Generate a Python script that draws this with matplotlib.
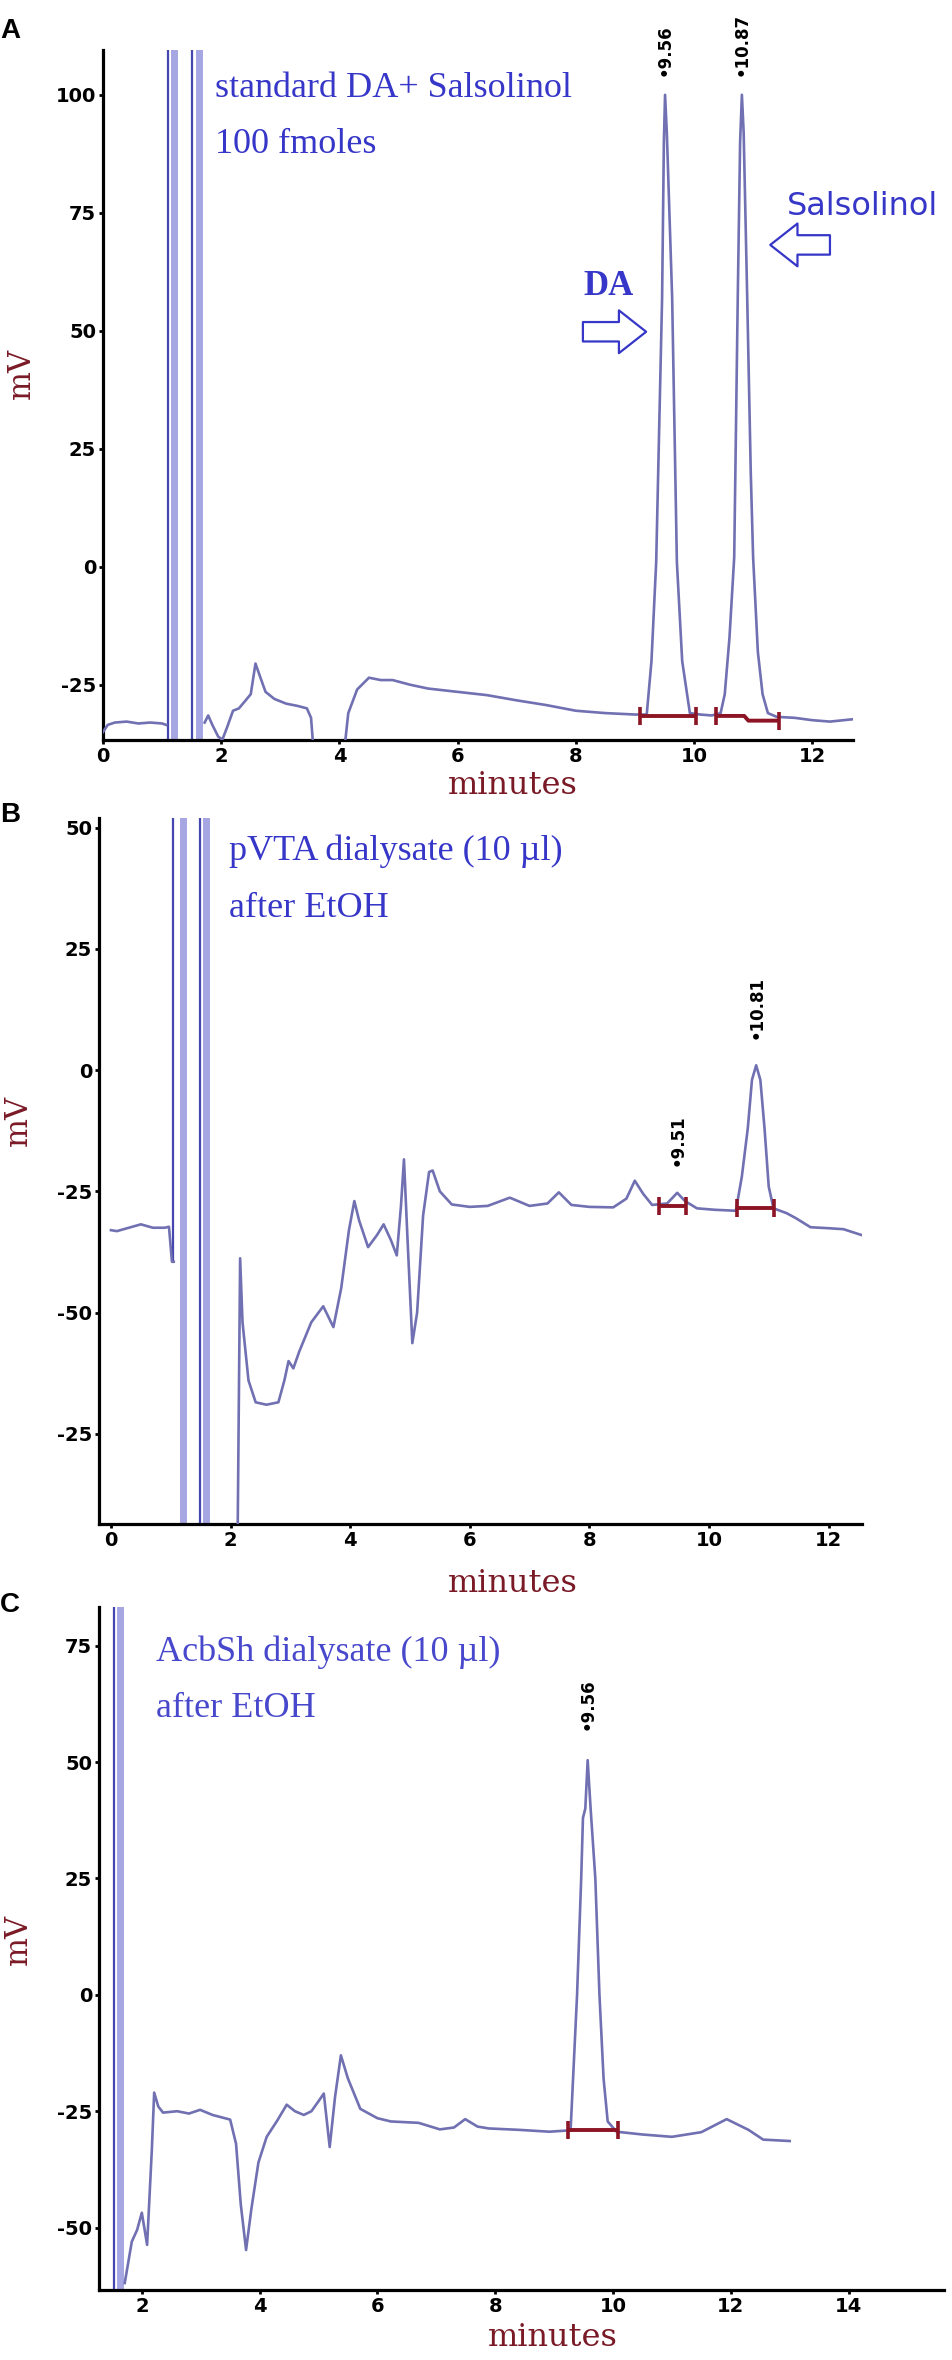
import numpy as np
import matplotlib.pyplot as plt

# ---------------- data ----------------
# panel A : standard DA + salsolinol, 100 fmoles
a_time = [0.0, 0.08, 0.2, 0.4, 0.6, 0.8, 1.0, 1.07, np.nan,
          1.72, 1.78, 1.85, 1.95, 2.02, 2.1, 2.2, 2.3, 2.4, 2.5, 2.58, 2.65, 2.75,
          2.9, 3.1, 3.3, 3.45, 3.52, 3.6, np.nan,
          4.03, 4.15, 4.3, 4.5, 4.7, 4.9, 5.2, 5.5, 6.0, 6.5, 7.0, 7.5, 8.0, 8.5,
          9.0, 9.2, 9.28, 9.36, 9.46, 9.49, 9.51, 9.54, 9.63, 9.71, 9.8, 9.93,
          10.1, 10.3, 10.45, 10.52, 10.6, 10.68, 10.74, 10.78, 10.81, 10.84, 10.9,
          10.96, 11.0, 11.08, 11.16, 11.25, 11.4, 11.7, 12.0, 12.3, 12.69]
a_mv = [-35.0, -33.5, -33.0, -32.8, -33.2, -33.0, -33.2, -33.5, np.nan,
        -33.0, -31.5, -33.5, -36.0, -36.6, -34.0, -30.5, -30.0, -28.5, -27.0, -20.5, -23.0, -26.5,
        -28.0, -29.0, -29.5, -30.0, -32.0, -45.0, np.nan,
        -45.0, -31.0, -26.0, -23.5, -24.0, -24.0, -25.0, -25.8, -26.5, -27.2, -28.3, -29.3, -30.5, -31.0,
        -31.3, -31.3, -20.0, 1.0, 57.0, 90.0, 100.0, 92.0, 57.0, 1.0, -20.0, -31.0,
        -31.3, -31.5, -31.0, -27.0, -15.0, 2.0, 57.0, 90.0, 100.0, 92.0, 57.0,
        20.0, 2.0, -18.0, -27.0, -31.0, -31.8, -32.0, -32.5, -32.8, -32.3]
a_spikes = [1.10, 1.20, 1.50, 1.63]
a_peak_times = [9.51, 10.81]
a_peak_mv = [100, 100]
a_peak_labels = ['9.56', '10.87']
a_bar_x = [[9.08, 10.03], [10.37, 10.85, 10.92, 11.43]]
a_bar_mv = [[-31.6, -31.6], [-31.6, -31.6, -32.6, -32.6]]
a_yticks = [100, 75, 50, 25, 0, -25]
a_yticklabels = ['100', '75', '50', '25', '0', '-25']

# panel B : pVTA dialysate (10 ul) after EtOH
b_time = [0.0, 0.1, 0.3, 0.5, 0.7, 0.9, 0.97, 1.02, 1.05, np.nan,
          2.12, 2.16, 2.2, 2.3, 2.42, 2.6, 2.8, 2.9, 2.97, 3.05, 3.15, 3.35, 3.55,
          3.72, 3.85, 3.98, 4.07, 4.15, 4.3, 4.45, 4.56, 4.68, 4.78, 4.85, 4.9,
          4.96, 5.04, 5.12, 5.22, 5.32, 5.38, 5.5, 5.7, 6.0, 6.3, 6.67, 7.0, 7.3,
          7.49, 7.7, 8.0, 8.4, 8.62, 8.76, 8.9, 9.05, 9.3, 9.47, 9.6, 9.8, 10.1,
          10.45, 10.55, 10.65, 10.72, 10.79, 10.86, 10.93, 11.0, 11.08, 11.3,
          11.45, 11.7, 12.0, 12.25, 12.55]
b_mv = [-33.0, -33.2, -32.5, -31.8, -32.5, -32.5, -32.3, -39.5, -39.5, np.nan,
        -94.0, -38.8, -52.0, -64.0, -68.5, -69.0, -68.5, -64.0, -60.0, -61.5, -58.0, -52.0, -48.7,
        -53.0, -45.0, -33.0, -27.0, -31.0, -36.5, -34.0, -31.8, -35.0, -38.2, -28.0, -18.4,
        -35.0, -56.3, -50.0, -30.0, -21.0, -20.7, -25.0, -27.7, -28.2, -28.0, -26.3, -28.0, -27.5,
        -25.2, -27.8, -28.2, -28.3, -26.5, -22.8, -25.5, -27.8, -27.5, -25.3, -27.0, -28.5, -28.8,
        -29.0, -22.0, -12.0, -2.0, 1.0, -2.0, -12.0, -24.0, -28.5, -29.5,
        -30.5, -32.4, -32.6, -32.8, -34.0]
b_spikes = [1.04, 1.21, 1.49, 1.59]
b_spike_bottom = [-39.5, None, None, None]
b_peak_times = [9.47, 10.79]
b_peak_mv = [-25.3, 1.0]
b_peak_labels = ['9.51', '10.81']
b_bar_x = [[9.17, 9.62], [10.47, 11.08]]
b_bar_mv = [[-28.0, -28.0], [-28.5, -28.5]]
b_yticks = [50, 25, 0, -25, -50, -75]
b_yticklabels = ['50', '25', '0', '-25', '-50', '-25']

# panel C : AcbSh dialysate (10 ul) after EtOH
c_time = [1.71, 1.83, 1.92, 2.0, 2.09, 2.17, 2.21, 2.28, 2.36, 2.6, 2.8, 2.99,
          3.2, 3.5, 3.6, 3.68, 3.77, 3.86, 3.98, 4.12, 4.3, 4.46, 4.6, 4.75,
          4.88, 5.02, 5.09, 5.19, 5.28, 5.38, 5.5, 5.71, 6.0, 6.23, 6.7, 7.06,
          7.3, 7.49, 7.7, 7.89, 8.4, 8.92, 9.28, 9.39, 9.46, 9.49, 9.53, 9.57,
          9.62, 9.7, 9.77, 9.84, 9.91, 10.06, 10.5, 11.0, 11.5, 11.93, 12.3,
          12.55, 13.0]
c_mv = [-61.9, -53.0, -50.5, -46.8, -53.7, -33.3, -21.0, -24.0, -25.3, -25.0, -25.5, -24.7,
        -25.8, -26.8, -32.0, -45.0, -54.8, -46.0, -36.0, -30.5, -27.0, -23.6, -25.0, -25.8,
        -25.0, -22.5, -21.2, -32.7, -22.0, -13.0, -18.0, -24.5, -26.5, -27.2, -27.5, -28.9,
        -28.5, -26.7, -28.3, -28.7, -29.0, -29.4, -29.1, 0.0, 25.0, 38.0, 40.0, 50.4,
        40.0, 25.0, 0.0, -18.0, -27.2, -29.4, -30.0, -30.5, -29.5, -26.7, -29.0,
        -31.1, -31.4]
c_spikes = [1.53, 1.63]
c_peak_times = [9.57]
c_peak_mv = [50.4]
c_peak_labels = ['9.56']
c_bar_x = [[9.23, 10.08]]
c_bar_mv = [[-29.1, -29.1]]
c_yticks = [75, 50, 25, 0, -25, -50]
c_yticklabels = ['75', '50', '25', '0', '-25', '-50']

# ---------------- styling ----------------
W, H = 953, 2360
TRACE = '#7070b2'
SPIKE_DARK = '#4646b0'
SPIKE_LIGHT = '#a6a6e2'
TEXT_BLUE = '#3636c8'
BAR_RED = '#8c1424'
AX_RED = '#7a1a26'
TICK_FONT = ['Liberation Sans Narrow', 'DejaVu Sans']

fig = plt.figure(figsize=(W / 100, H / 100), dpi=100)


def px_axes(left, top, right, bottom):
    return fig.add_axes([left / W, 1 - bottom / H, (right - left) / W, (bottom - top) / H])


def style(ax, xlim, ylim, xticks, yticks, yticklabels):
    ax.set_xlim(*xlim)
    ax.set_ylim(*ylim)
    for s in ['top', 'right']:
        ax.spines[s].set_visible(False)
    for s in ['left', 'bottom']:
        ax.spines[s].set_linewidth(2.3)
    ax.set_xticks(xticks)
    ax.set_xticklabels([str(t) for t in xticks])
    ax.set_yticks(yticks)
    ax.set_yticklabels(yticklabels)
    ax.tick_params(length=3, width=2, pad=2, labelsize=14)
    for lab in ax.get_xticklabels() + ax.get_yticklabels():
        lab.set_family(TICK_FONT)
        lab.set_fontweight('bold')


def draw_bars(ax, bx, bmv):
    for xs, ys in zip(bx, bmv):
        ax.plot(xs, ys, color=BAR_RED, lw=2.8, solid_capstyle='butt', zorder=4)
        ax.plot([xs[0], xs[-1]], [ys[0], ys[-1]], ls='none', marker='|',
                ms=13, mew=2.6, color=BAR_RED, zorder=4)


def peak_labels(ax, times, mvs, labels, offset):
    for t, v, lab in zip(times, mvs, labels):
        ax.text(t, v + offset, '\u2022' + lab, rotation=90, ha='center', va='bottom',
                fontsize=12, fontweight='bold', family=TICK_FONT, clip_on=False)


def spikes(ax, xs, ylim, bottoms=None):
    for i, x in enumerate(xs):
        lo = ylim[0]
        if bottoms is not None and bottoms[i] is not None:
            lo = bottoms[i]
        if i % 2 == 0:
            ax.plot([x, x], [lo, ylim[1]], color=SPIKE_DARK, lw=1.6, zorder=2)
        else:
            ax.plot([x, x], [lo, ylim[1]], color=SPIKE_LIGHT, lw=5, zorder=1)


def hollow_arrow(ax, x0, x1, y):
    ax.annotate('', xy=(x1, y), xytext=(x0, y), annotation_clip=False,
                arrowprops=dict(arrowstyle='simple,head_length=0.7,head_width=1.1,tail_width=0.5',
                                fc='white', ec=TEXT_BLUE, lw=1.6, mutation_scale=28,
                                shrinkA=0, shrinkB=0))


serif = 'Liberation Serif'

# ---------------- panel A ----------------
axA = px_axes(103, 50, 853, 740)
ylimA = (-36.7, 109.5)
spikes(axA, a_spikes, ylimA)
axA.plot(a_time, a_mv, color=TRACE, lw=1.9, zorder=3)
draw_bars(axA, a_bar_x, a_bar_mv)
peak_labels(axA, a_peak_times, a_peak_mv, a_peak_labels, 4)
style(axA, (0, 12.69), ylimA, [0, 2, 4, 6, 8, 10, 12], a_yticks, a_yticklabels)
axA.text(1.9, 101.3, 'standard DA+ Salsolinol', color=TEXT_BLUE, family=serif,
         fontsize=26, va='center', ha='left')
axA.text(1.9, 89.4, '100 fmoles', color=TEXT_BLUE, family=serif,
         fontsize=26, va='center', ha='left')
axA.text(8.56, 59.3, 'DA', color=TEXT_BLUE, family=serif, fontsize=25,
         fontweight='bold', va='center', ha='center')
hollow_arrow(axA, 8.12, 9.19, 49.8)
axA.text(12.85, 76.3, 'Salsolinol', color=TEXT_BLUE, fontsize=23,
         va='center', ha='center', clip_on=False)
hollow_arrow(axA, 12.30, 11.29, 68.2)

# ---------------- panel B ----------------
axB = px_axes(99, 818, 862, 1524)
ylimB = (-93.6, 52.0)
spikes(axB, b_spikes, ylimB, b_spike_bottom)
axB.plot(b_time, b_mv, color=TRACE, lw=1.9, zorder=3)
draw_bars(axB, b_bar_x, b_bar_mv)
peak_labels(axB, b_peak_times, b_peak_mv, b_peak_labels, 5.5)
style(axB, (-0.2, 12.56), ylimB, [0, 2, 4, 6, 8, 10, 12], b_yticks, b_yticklabels)
axB.text(1.97, 45.2, 'pVTA dialysate (10 \u00b5l)', color=TEXT_BLUE, family=serif,
         fontsize=26, va='center', ha='left')
axB.text(1.97, 33.4, 'after EtOH', color=TEXT_BLUE, family=serif,
         fontsize=26, va='center', ha='left')

# ---------------- panel C ----------------
axC = px_axes(99, 1607, 944, 2290)
ylimC = (-63.4, 83.3)
spikes(axC, c_spikes, ylimC)
axC.plot(c_time, c_mv, color=TRACE, lw=1.9, zorder=3)
draw_bars(axC, c_bar_x, c_bar_mv)
peak_labels(axC, c_peak_times, c_peak_mv, c_peak_labels, 6.5)
style(axC, (1.273, 15.62), ylimC, [2, 4, 6, 8, 10, 12, 14], c_yticks, c_yticklabels)
axC.text(2.24, 73.5, 'AcbSh dialysate (10 \u00b5l)', color='#4848cc', family=serif,
         fontsize=26, va='center', ha='left')
axC.text(2.24, 61.4, 'after EtOH', color='#4848cc', family=serif,
         fontsize=26, va='center', ha='left')

# ---------------- axis titles and panel letters ----------------
for cx, cy in [(513, 786), (513, 1583), (553, 2338)]:
    fig.text(cx / W, 1 - cy / H, 'minutes', color=AX_RED, family='DejaVu Serif',
             fontsize=23, ha='center', va='center')
for cx, cy in [(21, 373), (18, 1120), (18, 1939)]:
    fig.text(cx / W, 1 - cy / H, 'mV', color=AX_RED, family='DejaVu Serif',
             fontsize=22, rotation=90, ha='center', va='center')
for letter, cy in [('A', 18), ('B', 802), ('C', 1592)]:
    fig.text(0.0, 1 - cy / H, letter, fontsize=20, fontweight='bold',
             family='Liberation Sans', ha='left', va='top')

fig.savefig('out.png', dpi=100)
